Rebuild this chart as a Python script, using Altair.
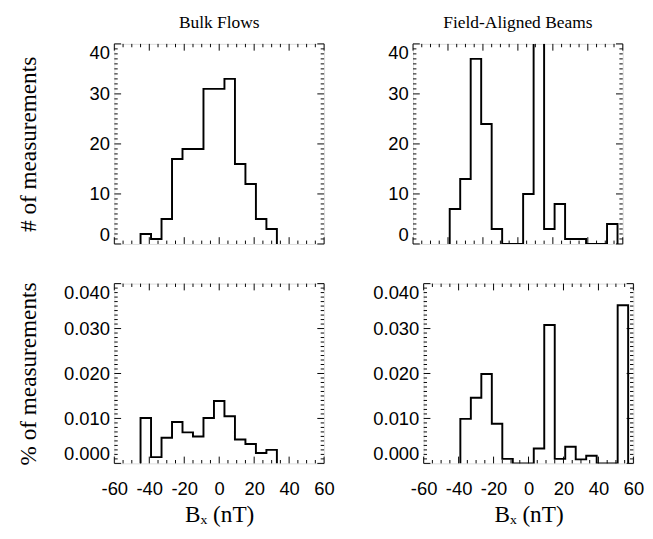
import altair as alt
import pandas as pd
import numpy as np

# ---------------- data ----------------
bin_width = 6
bulk_centers = [-42, -36, -30, -24, -18, -12, -6, 0, 6, 12, 18, 24, 30]
bulk_counts = [2, 1, 5, 17, 19, 19, 31, 31, 33, 16, 12, 5, 3]
bulk_pct = [0.0101, 0.0014, 0.0057, 0.0092, 0.0069, 0.0060, 0.0101,
            0.0139, 0.0105, 0.0053, 0.0043, 0.0023, 0.0030]

beam_centers = [-36, -30, -24, -18, -12, -6, 0, 6, 12, 18, 24, 30, 36, 42, 48, 54]
beam_counts = [7, 13, 37, 24, 3, 0, 0, 10, 48, 3, 8, 1, 1, 0, 0, 4]
beam_pct = [0.0099, 0.0146, 0.0199, 0.0088, 0.0010, 0, 0, 0.0033,
            0.0308, 0.0010, 0.0037, 0.0009, 0.0017, 0, 0, 0.0352]

x_major = [-60, -40, -20, 0, 20, 40, 60]
count_major = [0, 10, 20, 30, 40]
pct_major = [0.0, 0.01, 0.02, 0.03, 0.04]

# ---------------- styling ----------------
SANS = "Liberation Sans"
SERIF = "Liberation Serif"
W = 217
H_TOP = 207
H_BOT = 186
EXT = 53
LABEL_SIZE = 19


def outline(centers, values):
    xs, ys = [centers[0] - bin_width / 2], [0.0]
    for c, v in zip(centers, values):
        xs += [c - bin_width / 2, c + bin_width / 2]
        ys += [v, v]
    xs.append(centers[-1] + bin_width / 2)
    ys.append(0.0)
    return pd.DataFrame({"bx": xs, "val": ys, "i": list(range(len(xs)))})


def minor_vals(lo, hi, step, major):
    vals = np.round(np.arange(lo, hi + step / 2, step), 6)
    return [float(v) for v in vals if not np.any(np.isclose(v, major))]


def panel(centers, values, ydom, ymajor, ystep, yfmt, H, title=None,
          ytitle=None, xlabels=False):
    xs = alt.Scale(domain=[-60, 60], nice=False, zero=False)
    ys = alt.Scale(domain=ydom, nice=False, zero=False)

    if xlabels:
        xaxis = alt.Axis(values=x_major, labelExpr="'' + datum.value",
                         ticks=False, domain=False, grid=False,
                         labelFont=SANS, labelFontSize=LABEL_SIZE,
                         labelColor="black", labelPadding=17, labelFlush=False,
                         title="Bₓ (nT)", titleFont=SERIF, titleFontSize=24,
                         titleFontWeight="normal", titleColor="black",
                         titlePadding=5)
    else:
        xaxis = None

    yaxis_kw = dict(values=ymajor, format=yfmt, ticks=False, domain=False,
                    grid=False, labelFont=SANS, labelFontSize=LABEL_SIZE,
                    labelColor="black", labelPadding=5, labelFlush=True,
                    minExtent=EXT, maxExtent=EXT)
    if ytitle:
        yaxis = alt.Axis(title=ytitle, titleFont=SERIF, titleFontSize=24,
                         titleFontWeight="normal", titleColor="black",
                         titlePadding=24, **yaxis_kw)
    else:
        yaxis = alt.Axis(title=None, **yaxis_kw)

    hist = alt.Chart(outline(centers, values)).mark_line(
        color="black", strokeWidth=2, clip=True, strokeJoin="miter"
    ).encode(
        x=alt.X("bx:Q", scale=xs, axis=xaxis),
        y=alt.Y("val:Q", scale=ys, axis=yaxis),
        order="i:Q",
    )

    layers = [hist]
    x_minor = minor_vals(-60, 60, 5, x_major)
    y_minor = minor_vals(ydom[0], ydom[1], ystep, ymajor)
    for vals, L in [(x_major, 7), (x_minor, 3.5)]:
        d = pd.DataFrame({"bx": vals})
        layers.append(alt.Chart(d).mark_rule(color="black", strokeWidth=1).encode(
            x=alt.X("bx:Q", scale=xs, axis=xaxis), y=alt.value(H), y2=alt.value(H - L)))
        layers.append(alt.Chart(d).mark_rule(color="black", strokeWidth=1).encode(
            x=alt.X("bx:Q", scale=xs, axis=xaxis), y=alt.value(0), y2=alt.value(L)))
    for vals, L in [(ymajor, 7), (y_minor, 3.5)]:
        d = pd.DataFrame({"val": vals})
        layers.append(alt.Chart(d).mark_rule(color="black", strokeWidth=1).encode(
            y=alt.Y("val:Q", scale=ys, axis=yaxis), x=alt.value(0), x2=alt.value(L)))
        layers.append(alt.Chart(d).mark_rule(color="black", strokeWidth=1).encode(
            y=alt.Y("val:Q", scale=ys, axis=yaxis), x=alt.value(W), x2=alt.value(W - L)))

    ch = alt.layer(*layers).properties(width=W, height=H)
    if title:
        ch = ch.properties(title=alt.TitleParams(
            title, font=SERIF, fontSize=18, fontWeight="normal",
            color="black", offset=12, anchor="middle"))
    return ch


tl = panel(bulk_centers, bulk_counts, [0, 40], count_major, 1, "d", H_TOP,
           title="Bulk Flows", ytitle="# of measurements")
tr = panel(beam_centers, beam_counts, [0, 40], count_major, 1, "d", H_TOP,
           title="Field-Aligned Beams")
bl = panel(bulk_centers, bulk_pct, [0, 0.04], pct_major, 0.001, ".3f", H_BOT,
           ytitle="% of measurements", xlabels=True)
br = panel(beam_centers, beam_pct, [0, 0.04], pct_major, 0.001, ".3f", H_BOT,
           xlabels=True)

chart = alt.vconcat(
    alt.hconcat(tl, tr, spacing=37),
    alt.hconcat(bl, br, spacing=37),
    spacing=37,
).properties(
    padding={"left": 8, "top": -3, "right": 0, "bottom": 0}
).configure_view(
    stroke="black", strokeWidth=2
).configure(background="white")

chart.save("out.html", embed_options={"renderer": "svg", "actions": False})
